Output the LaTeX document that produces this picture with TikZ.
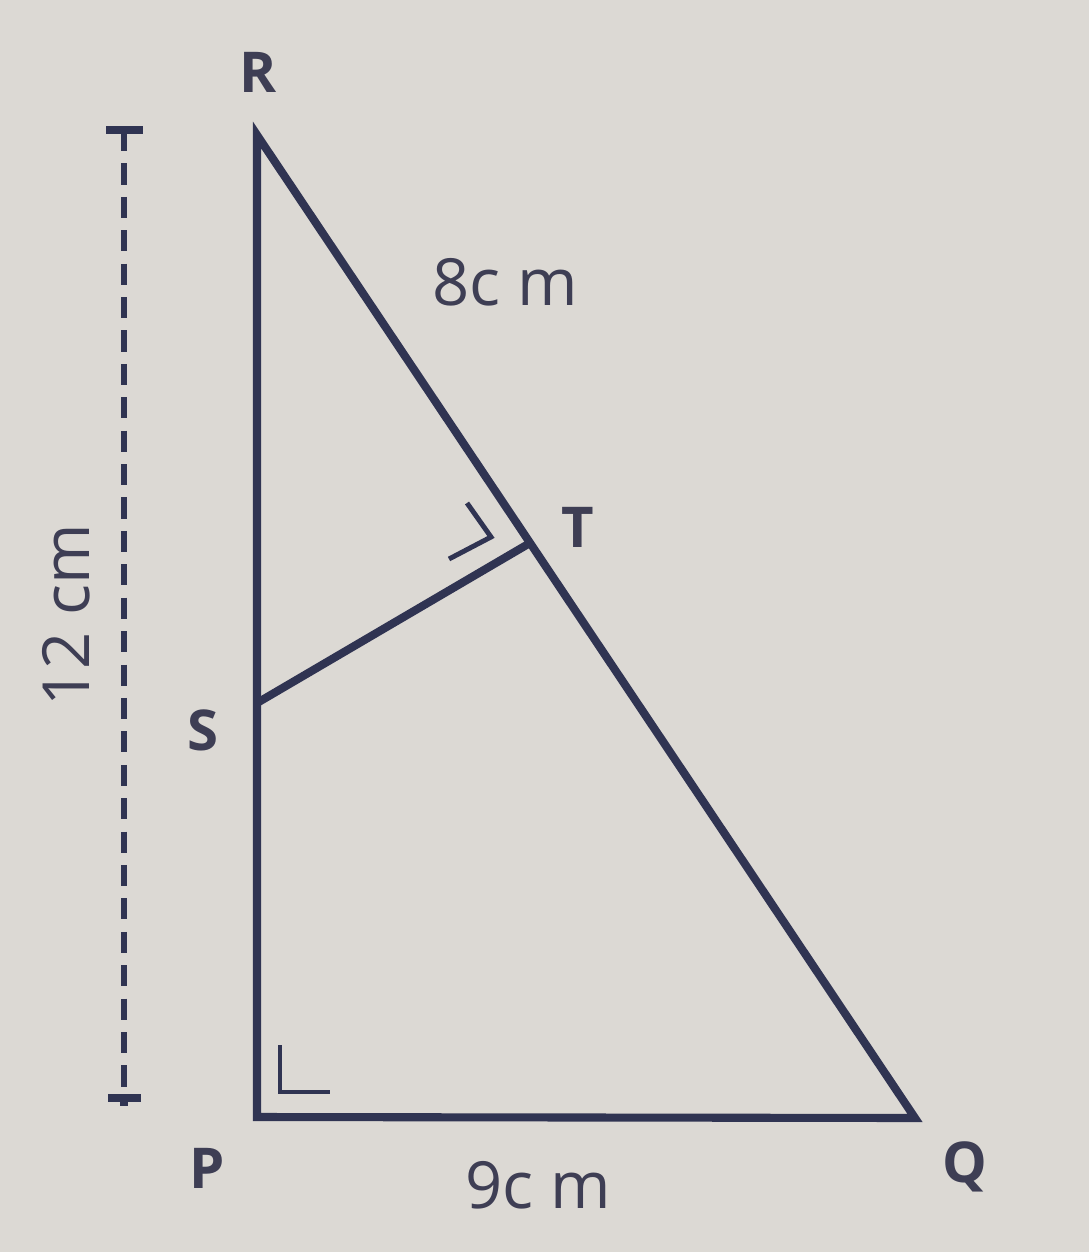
\documentclass[tikz,border=0pt]{standalone}
\usepackage{fontspec}
\setmainfont{Open Sans}
\usetikzlibrary{calc}
\definecolor{bg}{RGB}{220,217,212}
\definecolor{ink}{RGB}{48,52,82}
\definecolor{txt}{RGB}{62,62,84}
\tikzset{
  edge/.style={draw=ink, line width=2.3pt, line join=miter},
  anglemark/.style={draw=ink, line width=1.4pt},
  vlabel/.style={text=txt, font=\fontsize{16}{18}\selectfont\bfseries, inner sep=0pt},
  mlabel/.style={text=txt, font=\fontsize{18.5}{20}\selectfont, inner sep=0pt},
  dimline/.style={draw=ink, line width=1.8pt, dash pattern=on 6pt off 3.5pt},
  dimend/.style={draw=ink, line width=2.3pt},
}
\begin{document}
\begin{tikzpicture}[x=0.01cm, y=-0.01cm]
\fill[bg] (0,0) rectangle (1089,1252);
\useasboundingbox (0,0) rectangle (1089,1252);
% vertices
\coordinate (R) at (257,135);
\coordinate (P) at (257,1117);
\coordinate (Q) at (915,1118);
\coordinate (S) at (257,703);
\coordinate (T) at ($(R)!0.415!(Q)$);
% triangle and ST
\draw[edge] (R) -- (P) -- (Q) -- cycle;
\draw[edge] (S) -- (T);
% right angle marks
\coordinate (pa) at (280,1045);
\coordinate (pb) at (280,1092);
\coordinate (pc) at (330,1092);
\draw[anglemark] (pa) -- (pb) -- (pc);
\coordinate (ta) at (467,503);
\coordinate (tb) at (491,537);
\coordinate (tc) at (449,559);
\draw[anglemark] (ta) -- (tb) -- (tc);
% dimension line
\coordinate (dtop) at (124,130);
\coordinate (dbot) at (124,1098);
\coordinate (dtl) at (106,130);
\coordinate (dtr) at (143,130);
\coordinate (dbl) at (108,1098);
\coordinate (dbr) at (141,1098);
\coordinate (dend) at (124,1106);
\draw[dimline] (dtop) -- (dbot);
\draw[dimend] (dtl) -- (dtr);
\draw[dimend] (dbl) -- (dbr);
\draw[dimend] (dbot) -- (dend);
% labels
\node[vlabel] (lR) at (258,72) {R};
\node[vlabel] (lS) at (203,730) {S};
\node[vlabel] (lT) at (578,527) {T};
\node[vlabel] (lP) at (207,1168) {P};
\node[vlabel] (lQ) at (965,1167) {Q};
\node[mlabel] (l8) at (505,282) {8c m};
\node[mlabel] (l9) at (538,1185) {9c m};
\node[mlabel, rotate=90] (l12) at (66,615) {12 cm};
\end{tikzpicture}
\end{document}
